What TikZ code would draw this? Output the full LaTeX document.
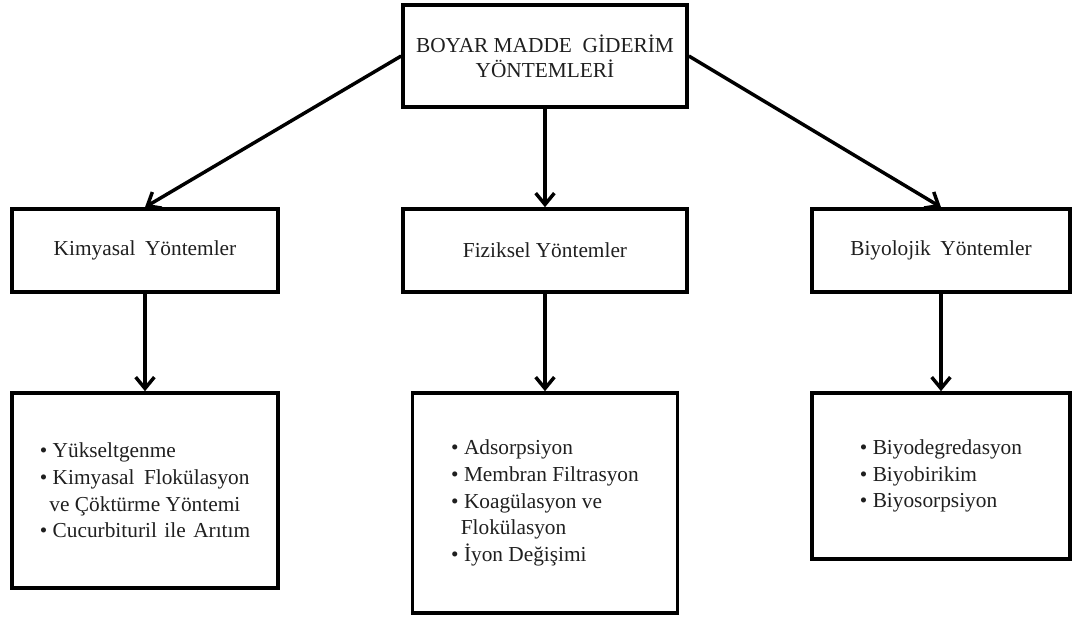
\documentclass[tikz,border=0pt]{standalone}
\usepackage{fontspec}
\setmainfont{Liberation Serif}
\usetikzlibrary{arrows.meta}
\begin{document}
\begin{tikzpicture}[x=0.75pt,y=-0.75pt,
  box/.style={draw=black, line width=2.7pt, rectangle, inner sep=0pt,
    align=center, text=black!88, font=\fontsize{16}{19}\selectfont},
  listbox/.style={box, align=left, font=\fontsize{16}{20}\selectfont},
  conn/.style={line width=2.6pt,
    -{Straight Barb[length=8.5pt,width=14pt,line width=2.6pt]}}]
\useasboundingbox (0,0) rectangle (1072,617);

% main heading
\node[box, minimum width=213pt, minimum height=76.5pt] (top) at (545,56)
  {BOYAR MADDE\hspace{0.25em} GİDERİM\\YÖNTEMLERİ};

% method groups
\node[box, minimum width=199.5pt, minimum height=62.25pt] (kim) at (145,250.5)
  {Kimyasal\hspace{0.2em} Yöntemler};
\node[box, minimum width=213pt, minimum height=62.25pt] (fiz) at (545,250.5)
  {Fiziksel Yöntemler};
\node[box, minimum width=193.5pt, minimum height=62.25pt] (biy) at (941,250.5)
  {Biyolojik\hspace{0.2em} Yöntemler};

% method lists
\node[listbox, minimum width=199.5pt, minimum height=146.25pt] (kimL) at (145,490.5)
  {• Yükseltgenme\\
   • Kimyasal\hspace{0.2em} Flokülasyon\\
   \hspace*{0.45em}ve Çöktürme Yöntemi\\
   • Cucurbituril\hspace{0.1em} ile\hspace{0.1em} Arıtım};
\node[listbox, minimum width=198.75pt, minimum height=165pt] (fizL) at (545,503)
  {• Adsorpsiyon\\
   • Membran Filtrasyon\\
   • Koagülasyon ve\\
   \hspace*{0.45em}Flokülasyon\\
   • İyon Değişimi};
\node[listbox, minimum width=193.5pt, minimum height=124.5pt] (biyL) at (941,476)
  {• Biyodegredasyon\\
   • Biyobirikim\\
   • Biyosorpsiyon};

% connectors
\draw[conn] (top.west) -- (kim.north);
\draw[conn] (top.south) -- (fiz.north);
\draw[conn] (top.east) -- (biy.north);
\draw[conn] (kim.south) -- (kimL.north);
\draw[conn] (fiz.south) -- (fizL.north);
\draw[conn] (biy.south) -- (biyL.north);
\end{tikzpicture}
\end{document}
